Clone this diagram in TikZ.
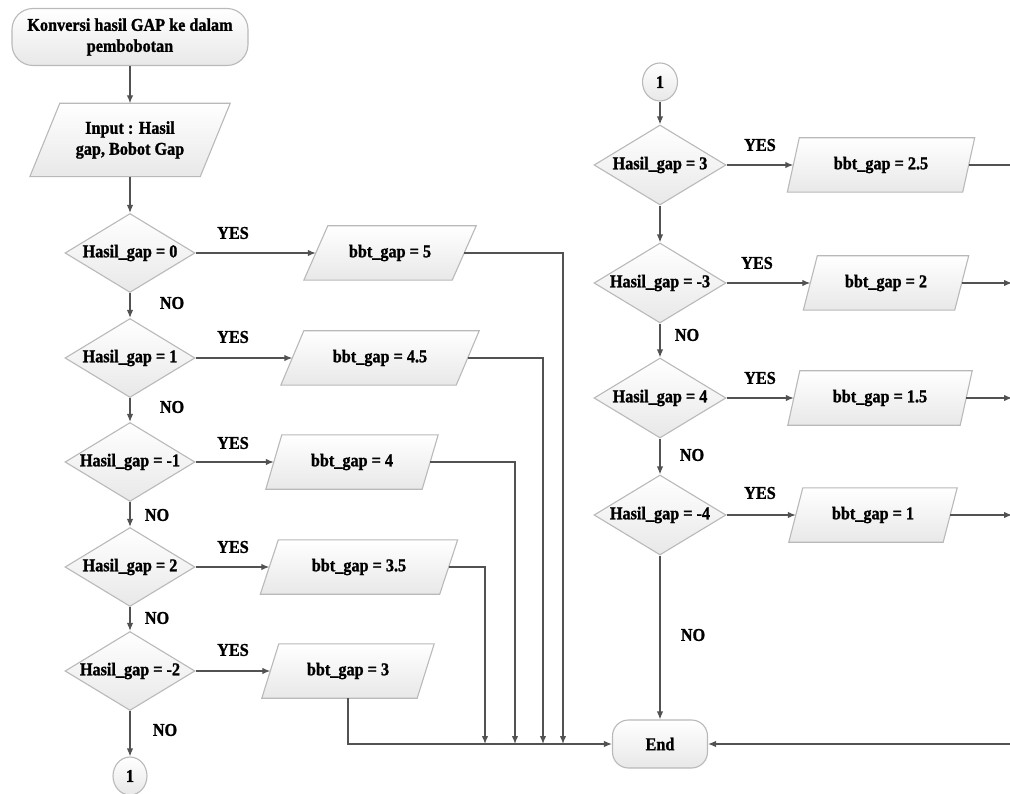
\documentclass[tikz,border=0pt]{standalone}
\usepackage{fontspec}
\setmainfont{Liberation Serif}[BoldFeatures={FakeStretch=0.9,FakeBold=1.2}]
\usetikzlibrary{shapes.geometric,arrows.meta,backgrounds}
\tikzset{
  shapebd/.style={draw=gray!55, line width=1.1pt, top color=white, bottom color=gray!18},
  lbl/.style={font=\fontsize{18}{21}\selectfont\bfseries, inner sep=1pt, text=black},
  dec/.style={diamond, aspect=1.65, shapebd, lbl, inner sep=0pt, minimum width=130pt, minimum height=79pt},
  rdec/.style={dec, minimum width=132pt, minimum height=80pt},
  term/.style={rectangle, shapebd, lbl, align=center},
  conn/.style={ellipse, shapebd, lbl, inner sep=0pt, minimum width=34pt, minimum height=38pt},
  parabase/.style={rectangle, lbl, inner sep=0pt, minimum height=54pt, align=center},
  parashape/.style={shapebd},
  flow/.style={draw=black!68, line width=1.3pt, -{Latex[length=8pt,width=6.5pt]}},
  plainline/.style={draw=black!68, line width=1.3pt},
}
% #1 options, #2 name, #3 x, #4 y, #5 width at mid-height, #6 half slant, #7 text
\newcommand\parashp[7][]{%
  \node[parabase, minimum width=#5pt, #1] (#2) at (#3,#4) {#7};
  \begin{scope}[on background layer]
    \path[parashape] ([xshift=#6pt]#2.north west) -- ([xshift=#6pt]#2.north east)
      -- ([xshift=-#6pt]#2.south east) -- ([xshift=-#6pt]#2.south west) -- cycle;
  \end{scope}}
\begin{document}
\begin{tikzpicture}[x=1pt,y=-1pt]
\useasboundingbox (0,0) rectangle (1010,794);
\clip (0,0) rectangle (1010,794);

% left column
\node[term, rounded corners=21pt, minimum width=236pt, minimum height=57pt] (start) at (130,37)
  {Konversi hasil GAP ke dalam\\pembobotan};
\parashp[minimum height=73pt]{input}{130}{140}{170}{15}{Input : Hasil\\gap, Bobot Gap}
\node[dec] (d1) at (130,253) {Hasil\_gap = 0};
\node[dec] (d2) at (130,358) {Hasil\_gap = 1};
\node[dec] (d3) at (130,462) {Hasil\_gap = -1};
\node[dec] (d4) at (130,567) {Hasil\_gap = 2};
\node[dec] (d5) at (130,671) {Hasil\_gap = -2};
\node[conn] (c1) at (130,776) {1};

\parashp{p1}{390}{253}{148}{12}{bbt\_gap = 5}
\parashp{p2}{380}{358}{175}{11.5}{bbt\_gap = 4.5}
\parashp{p3}{352}{462}{156}{8}{bbt\_gap = 4}
\parashp{p4}{359}{567}{179}{9}{bbt\_gap = 3.5}
\parashp{p5}{348}{671}{155}{8.5}{bbt\_gap = 3}

% right column
\node[conn, minimum width=35pt] (c2) at (660,82) {1};
\node[rdec] (r1) at (660,165) {Hasil\_gap = 3};
\node[rdec] (r2) at (660,283) {Hasil\_gap = -3};
\node[rdec] (r3) at (660,398) {Hasil\_gap = 4};
\node[rdec] (r4) at (660,515) {Hasil\_gap = -4};
\node[term, rounded corners=16pt, minimum width=95pt, minimum height=48pt] (end) at (660,744) {End};

\parashp{q1}{881}{165}{175}{6}{bbt\_gap = 2.5}
\parashp{q2}{886}{283}{151}{7}{bbt\_gap = 2}
\parashp{q3}{880}{398}{172}{6}{bbt\_gap = 1.5}
\parashp{q4}{873}{515}{154}{7}{bbt\_gap = 1}

% junction and edge coordinates
\coordinate (j1) at (563,744);
\coordinate (j2) at (543,744);
\coordinate (j3) at (515,744);
\coordinate (j4) at (485,744);
\coordinate (e1) at (1011,165);
\coordinate (e2) at (1012,283);
\coordinate (e3) at (1012,398);
\coordinate (e4) at (1012,515);
\coordinate (e5) at (1012,744);

% labels
\node[lbl] (y1) at (233,233) {YES};
\node[lbl] (y2) at (233,337) {YES};
\node[lbl] (y3) at (233,443) {YES};
\node[lbl] (y4) at (233,547) {YES};
\node[lbl] (y5) at (233,650) {YES};
\node[lbl] (n1) at (172,303) {NO};
\node[lbl] (n2) at (172,407) {NO};
\node[lbl] (n3) at (157,515) {NO};
\node[lbl] (n4) at (157,618) {NO};
\node[lbl] (n5) at (165,730) {NO};
\node[lbl] (y6) at (760,145) {YES};
\node[lbl] (y7) at (757,263) {YES};
\node[lbl] (y8) at (760,378) {YES};
\node[lbl] (y9) at (760,493) {YES};
\node[lbl] (n6) at (687,335) {NO};
\node[lbl] (n7) at (692,455) {NO};
\node[lbl] (n8) at (693,635) {NO};

% connectors left
\draw[flow] (start.south) -- (input.north);
\draw[flow] (input.south) -- (d1.north);
\draw[flow] (d1.south) -- (d2.north);
\draw[flow] (d2.south) -- (d3.north);
\draw[flow] (d3.south) -- (d4.north);
\draw[flow] (d4.south) -- (d5.north);
\draw[flow] (d5.south) -- (c1.north);
\draw[flow] (d1.east) -- (p1.west);
\draw[flow] (d2.east) -- (p2.west);
\draw[flow] (d3.east) -- (p3.west);
\draw[flow] (d4.east) -- (p4.west);
\draw[flow] (d5.east) -- (p5.west);
\draw[flow] (p1.east) -| (j1);
\draw[flow] (p2.east) -| (j2);
\draw[flow] (p3.east) -| (j3);
\draw[flow] (p4.east) -| (j4);
\draw[flow] (p5.south) |- (end.west);

% connectors right
\draw[flow] (c2.south) -- (r1.north);
\draw[flow] (r1.south) -- (r2.north);
\draw[flow] (r2.south) -- (r3.north);
\draw[flow] (r3.south) -- (r4.north);
\draw[flow] (r4.south) -- (end.north);
\draw[flow] (r1.east) -- (q1.west);
\draw[flow] (r2.east) -- (q2.west);
\draw[flow] (r3.east) -- (q3.west);
\draw[flow] (r4.east) -- (q4.west);
\draw[plainline] (q1.east) -- (e1);
\draw[flow] (q2.east) -- (e2);
\draw[flow] (q3.east) -- (e3);
\draw[flow] (q4.east) -- (e4);
\draw[flow] (e5) -- (end.east);
\end{tikzpicture}
\end{document}
